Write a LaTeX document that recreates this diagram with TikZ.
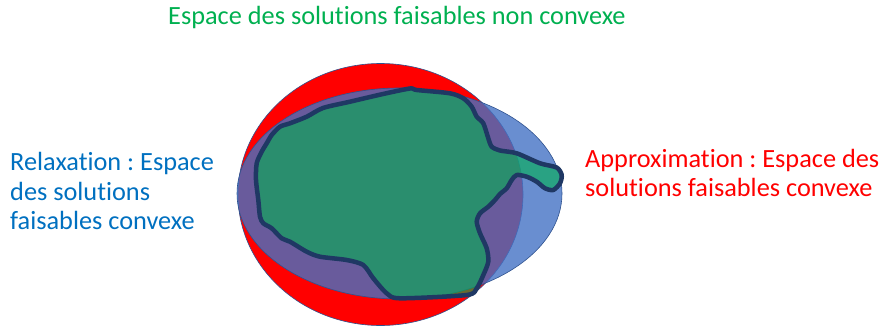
\documentclass[tikz,border=0pt]{standalone}
\usepackage{fontspec}
\setmainfont{Carlito}[Ligatures=NoCommon]
\frenchspacing
\definecolor{pgreen}{HTML}{00B050}
\definecolor{pblue}{HTML}{4472C4}
\definecolor{pedge}{HTML}{2F528F}
\definecolor{pnavy}{HTML}{1F3864}
\definecolor{ptxtblue}{HTML}{0070C0}
\begin{document}
\begin{tikzpicture}[x=1pt,y=-1pt,
  lbl/.style={inner sep=0pt, font=\fontsize{26.3}{29.5}\selectfont, align=left},
  thinedge/.style={draw=pedge, line width=0.6pt}]
\useasboundingbox (0,0) rectangle (882,329);
% approximation (red)
\path[thinedge, fill=red] (380.5,194.5) ellipse [x radius=142.5, y radius=131];
% relaxation (blue)
\path[thinedge, fill=pblue, fill opacity=0.8] (399.5,193.5) ellipse [x radius=162.5, y radius=105.5];
% non convex feasible set
\draw[draw=pnavy, line width=4.5pt, line join=round, fill=pgreen, fill opacity=0.6]
  plot[smooth cycle, tension=0.45] coordinates {
  (410,88.5) (416.7,90) (450,93.3) (463.3,98.3) (471.7,106.7) (476.7,116.7)
  (483.3,123.3) (488.3,138.3) (491.7,146.7) (500,150.5) (516.7,153.3)
  (540,163.3) (556.7,167.5) (561.7,175) (560,183.3) (553.3,190) (545,188.3)
  (536.7,181.7) (526.7,176.7) (516.7,175) (511.7,180) (506.7,188.3) (500,194)
  (495,200) (488.3,206.7) (480,213.3) (476.7,221.7) (480,233.3) (486.7,248.3)
  (488.3,261.7) (483.3,275) (476.7,288.3) (466.7,295) (400,298.3) (386.7,293.3)
  (373.3,278.3) (363.3,265) (346.7,260) (320,256.7) (306.7,251.7) (290,241.7)
  (281.7,238.3) (271.7,228.3) (263.3,223.3) (260,216.7) (258.3,200) (256,180)
  (256.7,163.3) (261.7,151.7) (266.7,143.3) (271.7,135) (280,126.7) (290,123.3)
  (306.7,116.7) (323,108) (350,101.7) (383,94)};
\node[lbl, text=pgreen, anchor=base west] (title) at (168,25) {Espace des solutions faisables non convexe};
\node[lbl, text=ptxtblue, anchor=base west] (relax) at (10,229.5) {Relaxation : Espace\\des solutions\\faisables convexe};
\node[lbl, text=red, anchor=base west] (approx) at (585,196.7) {Approximation : Espace des\\solutions faisables convexe};
\end{tikzpicture}
\end{document}
